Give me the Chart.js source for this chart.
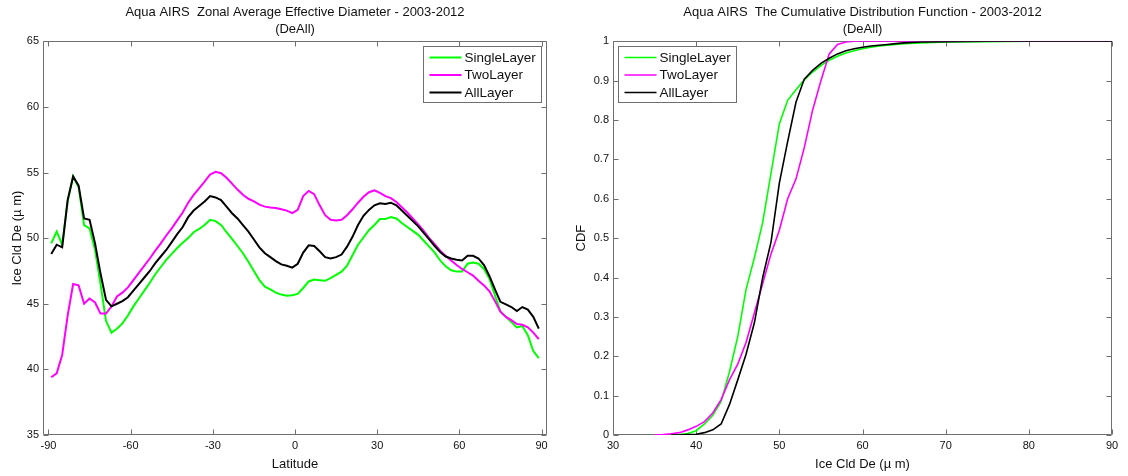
<!DOCTYPE html>
<html><head><meta charset="utf-8">
<script src="https://cdn.jsdelivr.net/npm/chart.js@4.4.1/dist/chart.umd.min.js"></script>
<style>
html,body{margin:0;padding:0;background:#fff;overflow:hidden;}
#wrap{position:relative;width:1128px;height:476px;background:#fff;}
.c{position:absolute;top:0;width:564px;height:476px;}
</style></head><body>
<div id="wrap">
<div class="c" style="left:0"><canvas id="c1" width="564" height="476"></canvas></div>
<div class="c" style="left:564px"><canvas id="c2" width="564" height="476"></canvas></div>
</div>
<script>
// ---------- data: zonal average ----------
const latitude = [-89,-87,-85,-83,-81,-79,-77,-75,-73,-71,-69,-67,-65,-63,-61,-59,-57,-55,-53,-51,
  -49,-47,-45,-43,-41,-39,-37,-35,-33,-31,-29,-27,-25,-23,-21,-19,-17,-15,-13,-11,
  -9,-7,-5,-3,-1,1,3,5,7,9,11,13,15,17,19,21,23,25,27,29,
  31,33,35,37,39,41,43,45,47,49,51,53,55,57,59,61,63,65,67,69,
  71,73,75,77,79,81,83,85,87,89];
const singleLayer = [49.6,50.5,49.5,52.8,54.7,53.9,51.0,50.75,49.1,46.5,
  43.7,42.8,43.1,43.5,44.1,44.8,45.4,46.0,46.6,47.25,
  47.8,48.35,48.8,49.25,49.65,50.0,50.45,50.7,51.0,51.4,
  51.3,51.0,50.45,49.95,49.4,48.85,48.2,47.5,46.8,46.3,
  46.1,45.85,45.7,45.62,45.65,45.75,46.2,46.7,46.85,46.8,
  46.75,46.95,47.2,47.45,47.9,48.7,49.5,50.05,50.6,51.0,
  51.45,51.45,51.6,51.5,51.15,50.85,50.55,50.25,49.8,49.35,
  48.9,48.3,47.85,47.55,47.45,47.45,48.05,48.15,48.05,47.65,
  46.9,45.65,44.4,44.0,43.6,43.2,43.3,42.6,41.4,40.85];
const twoLayer = [39.4,39.7,41.1,44.1,46.5,46.4,45.0,45.4,45.1,44.25,
  44.25,44.8,45.55,45.85,46.25,46.8,47.35,47.9,48.45,49.05,
  49.6,50.2,50.75,51.35,51.95,52.7,53.3,53.8,54.3,54.85,
  55.05,54.95,54.6,54.15,53.7,53.3,53.0,52.8,52.55,52.4,
  52.33,52.3,52.2,52.1,51.9,52.15,53.2,53.6,53.35,52.5,
  51.75,51.4,51.35,51.4,51.75,52.2,52.7,53.15,53.5,53.65,
  53.45,53.2,53.05,52.75,52.35,51.95,51.5,51.05,50.55,50.0,
  49.55,49.05,48.65,48.3,47.95,47.65,47.4,47.15,46.75,46.4,
  45.95,45.2,44.4,44.0,43.75,43.45,43.4,43.2,42.8,42.3];
const allLayer = [48.8,49.5,49.3,52.9,54.7,54.0,51.5,51.4,49.6,47.3,
  45.3,44.8,45.0,45.2,45.5,46.0,46.5,47.0,47.5,48.1,
  48.6,49.1,49.7,50.3,50.85,51.6,52.1,52.45,52.8,53.2,
  53.1,52.9,52.4,51.9,51.5,51.0,50.5,49.9,49.3,48.85,
  48.55,48.25,48.0,47.9,47.75,48.05,48.9,49.45,49.4,49.0,
  48.55,48.45,48.55,48.75,49.35,50.1,51.0,51.7,52.15,52.5,
  52.65,52.6,52.7,52.5,52.1,51.7,51.3,50.9,50.4,49.9,
  49.4,48.95,48.6,48.45,48.35,48.3,48.65,48.65,48.45,47.95,
  47.1,46.1,45.15,44.95,44.75,44.45,44.75,44.55,44.0,43.1];
const latTicks = [-90,-60,-30,0,30,60,90];
const deTicksLeft = [35,40,45,50,55,60,65];

// ---------- data: cumulative distribution ----------
const deGrid = [35,36,37,38,39,40,41,42,43,44,45,46,47,48,49,50,51,52,53,54,55,56,57,58,59,60,
  61,62,63,64,65,67,70,75,80,85,90];
const cdfSingle = [null,null,0,0.001,0.004,0.011,0.028,0.05,0.085,0.16,0.25,0.37,0.45,0.54,0.665,0.79,
  0.85,0.877,0.902,0.922,0.938,0.952,0.962,0.97,0.976,0.981,0.985,0.988,0.99,0.992,0.994,0.996,0.998,0.999,1,1,1];
const cdfTwo = [0,0.001,0.003,0.006,0.013,0.022,0.034,0.056,0.09,0.14,0.18,0.235,0.31,0.385,0.46,0.52,
  0.6,0.65,0.73,0.825,0.9,0.968,0.992,0.998,1,1,1,1,1,1,1,1,1,1,1,1,1];
const cdfAll = [null,null,0,0,0.001,0.002,0.006,0.013,0.028,0.077,0.14,0.205,0.285,0.4,0.49,0.64,
  0.745,0.845,0.904,0.926,0.944,0.957,0.968,0.976,0.981,0.985,0.988,0.99,0.992,0.994,0.996,0.998,0.999,1,1,1,1];
const deTicksRight = [30,40,50,60,70,80,90];
const cdfTicks = [0,0.1,0.2,0.3,0.4,0.5,0.6,0.7,0.8,0.9,1];
const cdfTickLabels = ['0','0.1','0.2','0.3','0.4','0.5','0.6','0.7','0.8','0.9','1'];

const seriesNames = ['SingleLayer','TwoLayer','AllLayer'];
const seriesColors = ['#00ff00','#ff00ff','#000000'];

// ---------- helpers ----------
const FONT = "'Liberation Sans', Arial, Helvetica, sans-serif";
const AXIS_COLOR = '#6f6f6f';
const TEXT_COLOR = '#111';

const matlabAxes = {
  id: 'matlabAxes',
  beforeDatasetsDraw(chart) {
    const {ctx, chartArea: a} = chart;
    const x = chart.scales.x, y = chart.scales.y;
    const L = 5;
    const l = Math.round(a.left) + 0.5, r = Math.round(a.right) - 0.5;
    const t = Math.round(a.top) + 0.5, b = Math.round(a.bottom) - 0.5;
    ctx.save();
    ctx.strokeStyle = AXIS_COLOR;
    ctx.lineWidth = 1;
    ctx.beginPath();
    ctx.rect(l, t, r - l, b - t);
    x.ticks.forEach(tk => {
      const px = Math.round(x.getPixelForValue(tk.value)) + 0.5;
      ctx.moveTo(px, b); ctx.lineTo(px, b - L);
      ctx.moveTo(px, t); ctx.lineTo(px, t + L);
    });
    y.ticks.forEach(tk => {
      const py = Math.round(y.getPixelForValue(tk.value)) + 0.5;
      ctx.moveTo(l, py); ctx.lineTo(l + L, py);
      ctx.moveTo(r, py); ctx.lineTo(r - L, py);
    });
    ctx.stroke();
    ctx.restore();
  }
};

const innerLegend = {
  id: 'innerLegend',
  afterDatasetsDraw(chart, args, o) {
    const {ctx, chartArea: a} = chart;
    const w = o.width, h = o.height;
    const bx = Math.round(o.side === 'right' ? a.right - o.offsetX - w : a.left + o.offsetX) + 0.5;
    const by = Math.round(a.top + o.offsetY) + 0.5;
    ctx.save();
    ctx.fillStyle = '#fff';
    ctx.fillRect(bx, by, w, h);
    ctx.strokeStyle = AXIS_COLOR;
    ctx.lineWidth = 1;
    ctx.strokeRect(bx, by, w, h);
    ctx.font = o.fontSize + 'px ' + FONT;
    ctx.textBaseline = 'middle';
    ctx.textAlign = 'left';
    chart.data.datasets.forEach((ds, i) => {
      const cy = by + o.firstRow + i * o.rowGap;
      ctx.strokeStyle = ds.borderColor;
      ctx.lineWidth = ds.borderWidth;
      ctx.beginPath();
      ctx.moveTo(bx + 6, cy); ctx.lineTo(bx + 38, cy);
      ctx.stroke();
      ctx.fillStyle = TEXT_COLOR;
      ctx.fillText(ds.label, bx + 41, cy + 0.5);
    });
    ctx.restore();
  }
};

function makeOptions(cfg) {
  return {
    responsive: false,
    animation: false,
    layout: { padding: { left: 0, right: cfg.padRight, top: 0, bottom: 0 } },
    plugins: {
      legend: { display: false },
      tooltip: { enabled: false },
      title: {
        display: true, text: cfg.title, fullSize: false, color: TEXT_COLOR,
        font: { family: FONT, size: 13, weight: 'normal', lineHeight: 1.28 },
        padding: { top: 4, bottom: 4 }
      },
      innerLegend: cfg.legend
    },
    scales: {
      x: {
        type: 'linear', min: cfg.xMin, max: cfg.xMax,
        afterBuildTicks: s => { s.ticks = cfg.xTicks.map(v => ({ value: v })); },
        afterFit: s => { s.height = 41; },
        grid: { display: false, drawTicks: false }, border: { display: false },
        ticks: { autoSkip: false, maxRotation: 0, padding: 4, color: TEXT_COLOR,
          font: { family: FONT, size: 11 }, callback: cfg.xLabel },
        title: { display: true, text: cfg.xTitle, color: TEXT_COLOR,
          font: { family: FONT, size: 13, lineHeight: 1.2 }, padding: { top: 0, bottom: 4 } }
      },
      y: {
        type: 'linear', min: cfg.yMin, max: cfg.yMax,
        afterBuildTicks: s => { s.ticks = cfg.yTicks.map(v => ({ value: v })); },
        afterFit: s => { s.width = cfg.yWidth; },
        grid: { display: false, drawTicks: false }, border: { display: false },
        ticks: { autoSkip: false, padding: 4, color: TEXT_COLOR,
          font: { family: FONT, size: 11 }, callback: cfg.yLabel },
        title: { display: true, text: cfg.yTitle, color: TEXT_COLOR,
          font: { family: FONT, size: 13, lineHeight: 1.2 }, padding: { top: cfg.yTitlePad, bottom: 0 } }
      }
    }
  };
}

function pairs(xs, ys) { return xs.map((x, i) => ({ x: x, y: ys[i] })); }

function makeDatasets(xs, seriesList, width) {
  return seriesList.map((ys, i) => ({
    label: seriesNames[i],
    data: pairs(xs, ys),
    borderColor: seriesColors[i],
    backgroundColor: seriesColors[i],
    borderWidth: width,
    pointRadius: 0,
    tension: 0,
    fill: false,
    spanGaps: false,
    order: 2 - i
  }));
}

new Chart(document.getElementById('c1'), {
  type: 'line',
  data: { datasets: makeDatasets(latitude, [singleLayer, twoLayer, allLayer], 2) },
  options: makeOptions({
    title: ['Aqua AIRS  Zonal Average Effective Diameter - 2003-2012', '(DeAll)'],
    padRight: 17, xMin: -92, xMax: 92, xTicks: latTicks,
    xLabel: v => String(v),
    yMin: 35, yMax: 65, yTicks: deTicksLeft, yLabel: v => String(v),
    yWidth: 43, yTitlePad: 9.5,
    xTitle: 'Latitude', yTitle: 'Ice Cld De (\u00b5 m)',
    legend: { side: 'right', offsetX: 6, offsetY: 5, width: 118, height: 56,
      firstRow: 11, rowGap: 17.5, fontSize: 13.5 }
  }),
  plugins: [matlabAxes, innerLegend]
});

new Chart(document.getElementById('c2'), {
  type: 'line',
  data: { datasets: makeDatasets(deGrid, [cdfSingle, cdfTwo, cdfAll], 1.6) },
  options: makeOptions({
    title: ['Aqua AIRS  The Cumulative Distribution Function - 2003-2012', '(DeAll)'],
    padRight: 16, xMin: 30, xMax: 90, xTicks: deTicksRight,
    xLabel: v => String(v),
    yMin: 0, yMax: 1, yTicks: cdfTicks, yLabel: (v, i) => cdfTickLabels[i],
    yWidth: 49, yTitlePad: 10,
    xTitle: 'Ice Cld De (\u00b5 m)', yTitle: 'CDF',
    legend: { side: 'left', offsetX: 5, offsetY: 5, width: 118, height: 56,
      firstRow: 11, rowGap: 17.5, fontSize: 13.5 }
  }),
  plugins: [matlabAxes, innerLegend]
});
</script>
</body></html>
